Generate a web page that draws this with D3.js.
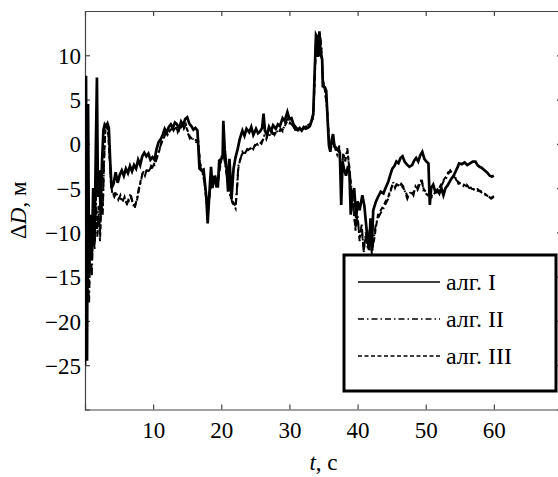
<!DOCTYPE html>
<html>
<head>
<meta charset="utf-8">
<script src="https://cdn.jsdelivr.net/npm/d3@7"></script>
<style>
  body { margin: 0; background: #fff; }
  text { font-family: "Liberation Serif", "Times New Roman", serif; fill: #000; }
</style>
</head>
<body>
<svg id="chart" width="558" height="477"></svg>
<script>
// Range error ΔD (m) over time t (s) for three algorithms: [t, ΔD]
const algI = [[0.0,-25],[0.15,7.7],[0.3,-24.5],[0.45,4.5],[0.6,-15],[0.8,-8],[1.0,-13],[1.2,-5],[1.4,-11],[1.6,0],[1.75,7.5],[1.9,-6],[2.1,-3],[2.3,-8],[2.5,-2],[2.7,1.5],[2.9,2.2],[3.1,2.0],[3.3,2.3],[3.5,1.8],[3.7,-2],[3.9,-5],[4.2,-4.5],[4.5,-3.2],[4.8,-4.4],[5.1,-3.5],[5.4,-3.0],[5.7,-3.6],[6.0,-2.8],[6.3,-3.3],[6.6,-2.5],[6.9,-3.1],[7.2,-2.4],[7.5,-2.8],[7.8,-1.8],[8.1,-2.4],[8.4,-1.4],[8.7,-1.0],[9.0,-1.4],[9.3,-1.1],[9.6,-1.8],[9.9,-1.5],[10.2,-1.8],[10.5,-0.6],[10.8,0.2],[11.1,0.5],[11.4,1.0],[11.7,1.7],[12.0,1.3],[12.3,1.9],[12.6,2.2],[12.9,1.8],[13.2,2.4],[13.5,2.2],[13.8,1.7],[14.1,2.5],[14.4,2.1],[14.7,2.8],[15.0,3.0],[15.3,2.3],[15.6,2.0],[15.9,1.6],[16.2,1.8],[16.5,1.5],[16.8,-2.8],[17.1,-3.0],[17.4,-2.9],[17.8,-6],[18.0,-9],[18.3,-5],[18.5,-2.6],[18.7,-5],[19.0,-3.6],[19.3,-4.8],[19.5,-4.8],[19.7,-1.9],[20.0,-1.7],[20.2,-1.4],[20.3,2.6],[20.5,-0.6],[20.8,-3],[21.0,-5.4],[21.2,-1.7],[21.5,-6.2],[21.8,-2.8],[22.1,-1.5],[22.4,-0.6],[22.7,0.5],[23.1,1.5],[23.4,0.9],[23.7,1.7],[24.1,1.3],[24.4,1.9],[24.7,1.0],[25.1,1.7],[25.4,1.2],[25.7,1.4],[26.0,1.8],[26.2,3.4],[26.4,1.5],[26.7,1.0],[27.0,1.9],[27.3,1.4],[27.6,2.1],[28.0,1.7],[28.3,2.2],[28.6,2.0],[29.0,2.9],[29.3,2.6],[29.7,3.6],[30.0,2.8],[30.3,2.9],[30.6,2.2],[30.9,1.9],[31.2,1.6],[31.5,1.8],[31.8,1.5],[32.1,1.9],[32.4,1.7],[32.7,1.8],[33.0,2.0],[33.3,2.8],[33.5,3.4],[33.7,8],[33.9,12.3],[34.1,12.0],[34.2,9.8],[34.4,12.7],[34.6,10],[34.8,9.6],[34.9,6.5],[35.2,6.4],[35.4,6.0],[35.6,2.8],[35.8,-0.2],[36.0,-0.9],[36.2,0.4],[36.4,1.1],[36.6,-0.3],[36.9,-0.5],[37.2,-0.8],[37.4,-1.0],[37.6,-6.9],[37.8,-2],[38.0,-2.8],[38.3,-3.6],[38.6,-2.5],[38.8,-3.2],[39.0,-8],[39.2,-6],[39.5,-5],[39.8,-8.4],[40.0,-6.5],[40.3,-7.5],[40.7,-5.8],[41.0,-7],[41.3,-9.5],[41.5,-11],[41.7,-12],[41.9,-8.4],[42.1,-11.5],[42.3,-7.5],[42.7,-6.5],[43.0,-6.0],[43.4,-5.4],[43.8,-5.6],[44.1,-5],[44.5,-4.3],[44.8,-3.5],[45.1,-2.8],[45.4,-2.5],[45.7,-2.0],[46.0,-2.2],[46.3,-1.6],[46.6,-1.4],[46.9,-2.0],[47.2,-2.3],[47.6,-2.6],[48.0,-2.4],[48.3,-1.9],[48.6,-1.6],[48.9,-2.0],[49.2,-1.3],[49.5,-0.9],[49.8,-1.7],[50.1,-2.0],[50.4,-2.2],[50.6,-6.9],[50.8,-5],[51.1,-4.6],[51.4,-5.4],[51.7,-5.2],[52.0,-5.6],[52.3,-5.0],[52.6,-5.8],[52.9,-5.0],[53.2,-4.7],[53.5,-4.3],[53.8,-3.9],[54.1,-3.6],[54.4,-3.1],[54.7,-2.6],[54.9,-2.2],[55.3,-2.3],[55.7,-2.1],[56.1,-2.4],[56.5,-2.2],[56.9,-2.0],[57.3,-2.0],[57.6,-2.4],[57.9,-2.6],[58.2,-2.7],[58.5,-2.9],[58.8,-3.1],[59.1,-3.3],[59.4,-3.6],[59.7,-3.7],[60.0,-3.6]];

const algII = [[0.0,-23],[0.2,-20],[0.4,-14],[0.6,-18],[0.8,-10],[1.0,-15],[1.2,-8],[1.4,-12],[1.6,-6],[1.8,-10.5],[2.0,-7],[2.2,-10],[2.4,-6.5],[2.6,-8],[2.8,-2],[3.0,1.8],[3.2,2.0],[3.4,1.5],[3.6,-1],[3.8,-4.5],[4.0,-5.5],[4.3,-6.0],[4.6,-5.4],[4.9,-6.3],[5.2,-5.8],[5.5,-6.6],[5.8,-6.0],[6.1,-7.0],[6.4,-6.2],[6.7,-5.6],[7.0,-6.8],[7.3,-7.3],[7.6,-6.2],[7.9,-5.0],[8.2,-4.3],[8.5,-3.0],[8.8,-3.6],[9.1,-2.8],[9.4,-3.2],[9.7,-2.5],[10.0,-2.8],[10.3,-2.2],[10.6,-1.5],[10.9,-0.6],[11.2,0.0],[11.5,0.6],[11.8,1.3],[12.1,1.0],[12.4,1.6],[12.7,1.9],[13.0,1.5],[13.3,2.0],[13.6,1.3],[13.9,1.8],[14.2,2.2],[14.5,1.7],[14.8,2.2],[15.1,1.2],[15.4,0.6],[15.7,0.8],[16.0,0.3],[16.3,0.2],[16.6,0.5],[16.9,-2.5],[17.2,-3.2],[17.5,-4],[17.8,-6.5],[18.0,-8.0],[18.3,-5.5],[18.6,-3.5],[18.9,-4.5],[19.2,-3.8],[19.5,-4.5],[19.8,-2.5],[20.1,-1.2],[20.4,-1.5],[20.7,-3.0],[21.0,-4.5],[21.3,-5.5],[21.6,-6.6],[21.9,-7.0],[22.1,-7.3],[22.3,-5],[22.5,-2.5],[22.8,-1.8],[23.1,-0.9],[23.4,-1.2],[23.8,-0.6],[24.1,-0.8],[24.4,-0.3],[24.7,-0.6],[25.0,0.0],[25.3,-0.2],[25.6,0.2],[25.9,0.0],[26.3,0.9],[26.6,0.5],[26.9,1.3],[27.2,0.9],[27.5,1.3],[27.8,1.0],[28.1,1.5],[28.4,1.2],[28.7,1.7],[29.0,1.4],[29.3,2.2],[29.7,2.8],[30.0,2.3],[30.3,2.4],[30.6,1.9],[30.9,1.5],[31.2,1.4],[31.5,1.6],[31.8,1.5],[32.1,1.8],[32.4,1.9],[32.7,2.3],[33.0,2.0],[33.3,2.6],[33.5,3.0],[33.7,7.5],[33.9,12.0],[34.1,11.8],[34.3,10],[34.5,12.4],[34.7,10.5],[34.9,7.0],[35.2,6.2],[35.5,4.0],[35.8,0.2],[36.1,-0.5],[36.4,0.8],[36.7,-0.5],[37.0,-1.2],[37.3,-0.2],[37.6,-4],[37.9,-1.0],[38.2,-2.0],[38.5,-0.5],[38.8,-3.0],[39.1,-5],[39.4,-7.5],[39.7,-9.5],[40.0,-8.0],[40.3,-11.0],[40.6,-9.0],[40.9,-12.3],[41.2,-10.0],[41.5,-11.8],[41.8,-9.5],[42.1,-12.5],[42.4,-10.5],[42.7,-9.0],[43.0,-8.4],[43.4,-7.8],[43.8,-7.3],[44.1,-6.8],[44.5,-6.2],[44.8,-5.5],[45.2,-4.3],[45.5,-5.0],[45.8,-4.4],[46.1,-4.9],[46.4,-4.5],[46.7,-4.8],[47.0,-5.5],[47.3,-6.2],[47.6,-5.6],[47.9,-5.4],[48.2,-5.8],[48.5,-4.8],[48.8,-5.2],[49.1,-4.6],[49.4,-3.9],[49.7,-5.4],[50.0,-5.6],[50.3,-5.8],[50.6,-5.5],[50.9,-6.0],[51.2,-5.7],[51.5,-5.3],[51.8,-5.6],[52.1,-5.0],[52.4,-4.6],[52.7,-4.1],[53.0,-3.9],[53.3,-3.4],[53.6,-3.0],[53.9,-3.3],[54.2,-3.6],[54.5,-4.1],[54.8,-4.3],[55.2,-4.6],[55.6,-4.8],[56.0,-4.6],[56.4,-5.0],[56.8,-4.9],[57.2,-5.3],[57.6,-5.1],[58.0,-5.4],[58.4,-5.6],[58.8,-5.8],[59.2,-5.9],[59.6,-6.2],[60.0,-6.0]];

const algIII = [[0.0,-22],[0.2,-19],[0.4,-15],[0.6,-16],[0.8,-11],[1.0,-13],[1.2,-9],[1.4,-11],[1.6,-7],[1.8,-9.5],[2.0,-8],[2.2,-11],[2.4,-7],[2.6,-7.5],[2.8,-1.5],[3.0,1.6],[3.2,2.1],[3.4,1.3],[3.6,-1.5],[3.8,-4.0],[4.0,-5.8],[4.3,-5.6],[4.6,-5.8],[4.9,-6.0],[5.2,-6.2],[5.5,-6.3],[5.8,-6.4],[6.1,-6.6],[6.4,-6.5],[6.7,-6.0],[7.0,-6.5],[7.3,-7.0],[7.6,-6.5],[7.9,-5.3],[8.2,-4.0],[8.5,-3.3],[8.8,-3.3],[9.1,-3.0],[9.4,-3.0],[9.7,-2.7],[10.0,-2.5],[10.3,-2.0],[10.6,-1.3],[10.9,-0.8],[11.2,0.2],[11.5,0.5],[11.8,1.1],[12.1,1.2],[12.4,1.4],[12.7,1.7],[13.0,1.7],[13.3,1.8],[13.6,1.5],[13.9,1.6],[14.2,2.0],[14.5,1.9],[14.8,2.0],[15.1,1.4],[15.4,0.8],[15.7,0.6],[16.0,0.5],[16.3,0.4],[16.6,0.3],[16.9,-2.2],[17.2,-3.0],[17.5,-4.3],[17.8,-6.0],[18.0,-7.6],[18.3,-5.8],[18.6,-3.8],[18.9,-4.2],[19.2,-4.0],[19.5,-4.2],[19.8,-2.8],[20.1,-1.4],[20.4,-1.3],[20.7,-2.8],[21.0,-4.2],[21.3,-5.8],[21.6,-6.3],[21.9,-6.8],[22.1,-7.0],[22.3,-5.3],[22.5,-2.8],[22.8,-1.6],[23.1,-1.1],[23.4,-1.0],[23.8,-0.8],[24.1,-0.6],[24.4,-0.5],[24.7,-0.4],[25.0,-0.2],[25.3,0.0],[25.6,0.0],[25.9,0.2],[26.3,0.7],[26.6,0.7],[26.9,1.1],[27.2,1.1],[27.5,1.1],[27.8,1.2],[28.1,1.3],[28.4,1.4],[28.7,1.5],[29.0,1.6],[29.3,2.0],[29.7,2.6],[30.0,2.5],[30.3,2.2],[30.6,2.0],[30.9,1.6],[31.2,1.5],[31.5,1.5],[31.8,1.6],[32.1,1.7],[32.4,2.0],[32.7,2.1],[33.0,2.2],[33.3,2.4],[33.5,3.2],[33.7,7.0],[33.9,11.6],[34.1,11.9],[34.3,10.4],[34.5,12.0],[34.7,10.8],[34.9,7.4],[35.2,6.0],[35.5,4.4],[35.8,0.6],[36.1,-0.2],[36.4,0.5],[36.7,-0.2],[37.0,-0.9],[37.3,-0.5],[37.6,-3.6],[37.9,-1.4],[38.2,-1.6],[38.5,-0.8],[38.8,-2.6],[39.1,-5.5],[39.4,-7.0],[39.7,-9.8],[40.0,-8.5],[40.3,-10.6],[40.6,-9.6],[40.9,-12.0],[41.2,-10.5],[41.5,-11.4],[41.8,-10.0],[42.1,-12.2],[42.4,-11.0],[42.7,-9.4],[43.0,-8.0],[43.4,-7.5],[43.8,-7.0],[44.1,-6.5],[44.5,-6.0],[44.8,-5.2],[45.2,-4.6],[45.5,-4.8],[45.8,-4.6],[46.1,-4.7],[46.4,-4.7],[46.7,-5.0],[47.0,-5.3],[47.3,-5.9],[47.6,-5.8],[47.9,-5.6],[48.2,-5.5],[48.5,-5.0],[48.8,-4.9],[49.1,-4.4],[49.4,-4.2],[49.7,-5.1],[50.0,-5.4],[50.3,-5.6],[50.6,-5.7],[50.9,-5.8],[51.2,-5.5],[51.5,-5.5],[51.8,-5.4],[52.1,-4.8],[52.4,-4.4],[52.7,-4.0],[53.0,-3.7],[53.3,-3.2],[53.6,-3.2],[53.9,-3.5],[54.2,-3.8],[54.5,-3.9],[54.8,-4.5],[55.2,-4.4],[55.6,-4.6],[56.0,-4.8],[56.4,-4.8],[56.8,-5.1],[57.2,-5.1],[57.6,-5.3],[58.0,-5.3],[58.4,-5.5],[58.8,-5.7],[59.2,-6.0],[59.6,-6.1],[60.0,-5.9]];

const seriesNames = ["алг. I", "алг. II", "алг. III"];
const xTickValues = [10, 20, 30, 40, 50, 60];
const yTickValues = [-25, -20, -15, -10, -5, 0, 5, 10];

// Plot frame edges
const frameLeft = 85, frameRight = 562, frameTop = 11, frameBottom = 409.5;
const svg = d3.select("#chart");

const x = d3.scaleLinear().domain([0, 70]).range([frameLeft, frameRight]);
const y = d3.scaleLinear().domain([-30, 15]).range([frameBottom, frameTop]);

const fmt = d => d < 0 ? "\u2212" + Math.abs(d) : String(d);

svg.append("defs").append("clipPath").attr("id", "plotClip")
  .append("rect").attr("x", frameLeft).attr("y", frameTop)
  .attr("width", frameRight - frameLeft).attr("height", frameBottom - frameTop);

// Axes (ticks point inward, boxed frame)
const tickLen = 5;
const axisColor = "#444";

const gx = svg.append("g").attr("transform", `translate(0,${frameBottom})`)
  .call(d3.axisBottom(x).tickValues(xTickValues).tickSize(-tickLen).tickPadding(12).tickFormat(fmt));
const gxTop = svg.append("g").attr("transform", `translate(0,${frameTop})`)
  .call(d3.axisTop(x).tickValues(xTickValues).tickSize(-tickLen).tickFormat(""));
const gy = svg.append("g").attr("transform", `translate(${frameLeft},0)`)
  .call(d3.axisLeft(y).tickValues(yTickValues).tickSize(-tickLen).tickPadding(4).tickFormat(fmt));
const gyRight = svg.append("g").attr("transform", `translate(${frameRight},0)`)
  .call(d3.axisRight(y).tickValues(yTickValues).tickSize(-tickLen).tickFormat(""));

[gx, gxTop, gy, gyRight].forEach(g => {
  g.select(".domain").attr("stroke", axisColor).attr("stroke-width", 1.2);
  g.selectAll(".tick line").attr("stroke", axisColor).attr("stroke-width", 1.2);
  g.selectAll(".tick text")
    .style("font-family", '"Liberation Serif", serif')
    .style("font-size", "23px").attr("fill", "#000");
});
gy.selectAll(".tick text").attr("dy", "0.35em");

// Data lines
const line = d3.line().x(d => x(d[0])).y(d => y(d[1]));
const plot = svg.append("g").attr("clip-path", "url(#plotClip)");

const series = [
  { data: algIII, dash: "5,3", width: 2 },
  { data: algII, dash: "7,3,1.5,3", width: 2 },
  { data: algI, dash: null, width: 2.7 }
];
series.forEach(s => {
  plot.append("path").datum(s.data)
    .attr("d", line)
    .attr("fill", "none")
    .attr("stroke", "#000")
    .attr("stroke-width", s.width)
    .attr("stroke-linejoin", "miter")
    .attr("stroke-dasharray", s.dash);
});

// Axis titles
svg.append("text")
  .attr("x", (frameLeft + frameRight) / 2).attr("y", 470)
  .attr("text-anchor", "middle")
  .style("font-size", "23px")
  .html('<tspan font-style="italic">t</tspan>, с');

svg.append("text")
  .attr("transform", `translate(26,${(frameTop + frameBottom) / 2}) rotate(-90)`)
  .attr("text-anchor", "middle")
  .style("font-size", "23px")
  .html('\u0394<tspan font-style="italic">D</tspan>, м');

// Legend
const legend = svg.append("g");
legend.append("rect")
  .attr("x", 344).attr("y", 255).attr("width", 212).attr("height", 136)
  .attr("fill", "#fff").attr("stroke", "#000").attr("stroke-width", 3);

const legendStyles = [
  { dash: null }, { dash: "6,3,1.5,3" }, { dash: "4,2.5" }
];
const legendRows = [282, 319, 356];
seriesNames.forEach((name, i) => {
  legend.append("line")
    .attr("x1", 358).attr("x2", 440)
    .attr("y1", legendRows[i]).attr("y2", legendRows[i])
    .attr("stroke", "#000").attr("stroke-width", 1.5)
    .attr("stroke-dasharray", legendStyles[i].dash);
  legend.append("text")
    .attr("x", 446).attr("y", legendRows[i])
    .attr("dy", "0.35em")
    .style("font-size", "24px")
    .text(name);
});
</script>
</body>
</html>
